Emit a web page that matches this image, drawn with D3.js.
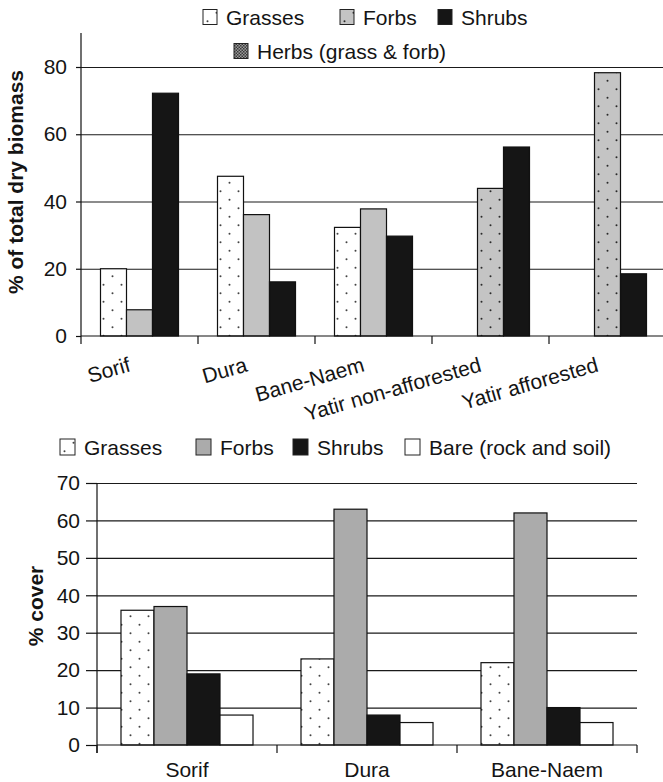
<!DOCTYPE html>
<html>
<head>
<meta charset="utf-8">
<script src="https://cdn.jsdelivr.net/npm/d3@7"></script>
<style>
  body { margin: 0; background: #fff; }
  text { font-family: "Liberation Sans", Arial, sans-serif; fill: #141414; }
</style>
</head>
<body>
<div id="chart"></div>
<script>
// top panel: % of total dry biomass
const sites1 = ["Sorif", "Dura", "Bane-Naem", "Yatir non-afforested", "Yatir afforested"]
const grasses1 = [20, 47.5, 32.3, null, null]
const forbs1 = [7.8, 36.1, 37.8, null, null]
const herbs1 = [null, null, null, 43.9, 78.3]
const shrubs1 = [72.2, 16.1, 29.7, 56.2, 18.5]
const ticks1 = [0, 20, 40, 60, 80]

// bottom panel: % cover
const sites2 = ["Sorif", "Dura", "Bane-Naem"]
const grasses2 = [36, 23, 22]
const forbs2 = [37, 63, 62]
const shrubs2 = [19, 8, 10]
const bare2 = [8, 6, 6]
const ticks2 = [0, 10, 20, 30, 40, 50, 60, 70]

const width = 663
const height = 782

const svg = d3.select('#chart')
    .append('svg')
    .attr('width', width)
    .attr('height', height)

// fills
const defs = svg.append('defs')
function dotPattern(id, bg, dot) {
    const p = defs.append('pattern')
        .attr('id', id)
        .attr('patternUnits', 'userSpaceOnUse')
        .attr('width', 18)
        .attr('height', 17)
    p.append('rect').attr('width', 18).attr('height', 17).attr('fill', bg)
    p.append('circle').attr('cx', 4.5).attr('cy', 4.2).attr('r', 1).attr('fill', dot)
    p.append('circle').attr('cx', 13.5).attr('cy', 12.7).attr('r', 1).attr('fill', dot)
}
dotPattern('grassDots', '#ffffff', '#444')
dotPattern('herbDots', '#c4c4c4', '#2a2a2a')
const chk = defs.append('pattern')
    .attr('id', 'checker')
    .attr('patternUnits', 'userSpaceOnUse')
    .attr('width', 3).attr('height', 3)
chk.append('rect').attr('width', 3).attr('height', 3).attr('fill', '#9a9a9a')
chk.append('rect').attr('width', 1.5).attr('height', 1.5).attr('fill', '#3a3a3a')
chk.append('rect').attr('x', 1.5).attr('y', 1.5).attr('width', 1.5).attr('height', 1.5).attr('fill', '#3a3a3a')

const colors = {
    grasses: 'url(#grassDots)',
    forbs1: '#c2c2c2',
    forbs2: '#ababab',
    herbs: 'url(#herbDots)',
    shrubs: '#151515',
    bare: '#ffffff'
}

// ---------- top chart ----------
const x1 = d3.scaleBand()
    .domain(sites1)
    .range([81, 666])
const slot1 = d3.scaleBand()
    .domain(['grasses', 'forbs', 'shrubs'])
    .range([0, x1.bandwidth()])
    .paddingInner(0)
    .paddingOuter(0.75)
const y1 = d3.scaleLinear()
    .domain([0, 80])
    .range([336, 67])

const topChart = svg.append('g')

topChart.append('g')
    .attr('transform', 'translate(81,0)')
    .call(d3.axisLeft(y1).tickValues(ticks1.slice(1)).tickSize(-(width - 81)).tickFormat(''))
    .call(g => g.select('.domain').remove())
    .call(g => g.selectAll('line').attr('stroke', '#1a1a1a').attr('stroke-width', 1.2))

const bars1 = []
sites1.forEach((s, i) => {
    if (grasses1[i] != null) bars1.push({ site: s, slot: 'grasses', v: grasses1[i], fill: colors.grasses })
    if (forbs1[i] != null) bars1.push({ site: s, slot: 'forbs', v: forbs1[i], fill: colors.forbs1 })
    if (herbs1[i] != null) bars1.push({ site: s, slot: 'forbs', v: herbs1[i], fill: colors.herbs })
    if (shrubs1[i] != null) bars1.push({ site: s, slot: 'shrubs', v: shrubs1[i], fill: colors.shrubs })
})

topChart.selectAll('rect.bar')
    .data(bars1)
    .join('rect')
    .attr('class', 'bar')
    .attr('x', d => x1(d.site) + slot1(d.slot))
    .attr('y', d => y1(d.v))
    .attr('width', slot1.bandwidth())
    .attr('height', d => y1(0) - y1(d.v))
    .attr('fill', d => d.fill)
    .attr('stroke', '#111')
    .attr('stroke-width', 1.2)

// x axis line + category ticks
topChart.append('line')
    .attr('x1', 81).attr('x2', width)
    .attr('y1', y1(0)).attr('y2', y1(0))
    .attr('stroke', '#111').attr('stroke-width', 1.2)
topChart.selectAll('line.ctick')
    .data(sites1.slice(1))
    .join('line')
    .attr('class', 'ctick')
    .attr('x1', d => x1(d)).attr('x2', d => x1(d))
    .attr('y1', y1(0)).attr('y2', y1(0) + 8)
    .attr('stroke', '#111').attr('stroke-width', 1.2)

// y axis
topChart.append('g')
    .attr('transform', 'translate(81,0)')
    .call(d3.axisLeft(y1).tickValues(ticks1).tickSize(5).tickPadding(9))
    .call(g => g.select('.domain').remove())
    .call(g => g.selectAll('line').attr('stroke', '#111').attr('stroke-width', 1.2))
    .call(g => g.selectAll('text').attr('font-size', 21).attr('font-family', '"Liberation Sans", Arial, sans-serif').attr('fill', '#141414'))
topChart.append('line')
    .attr('x1', 81).attr('x2', 81)
    .attr('y1', 33).attr('y2', y1(0) + 8)
    .attr('stroke', '#111').attr('stroke-width', 1.2)

topChart.selectAll('text.cat')
    .data(sites1)
    .join('text')
    .attr('class', 'cat')
    .attr('text-anchor', 'end')
    .attr('font-size', 21)
    .attr('transform', d => `translate(${x1(d) + x1.bandwidth() / 2 - 8},371) rotate(-16)`)
    .text(d => d)

topChart.append('text')
    .attr('transform', 'translate(23,182) rotate(-90)')
    .attr('text-anchor', 'middle')
    .attr('font-size', 21)
    .attr('font-weight', 'bold')
    .text('% of total dry biomass')

// legend top
const legend1 = [
    { label: 'Grasses', fill: colors.grasses, x: 203, y: 17 },
    { label: 'Forbs', fill: 'url(#herbDots)', x: 340, y: 17 },
    { label: 'Shrubs', fill: colors.shrubs, x: 438, y: 17 },
    { label: 'Herbs (grass & forb)', fill: 'url(#checker)', x: 234, y: 51 }
]
const lg1 = topChart.selectAll('g.lg')
    .data(legend1)
    .join('g')
    .attr('class', 'lg')
    .attr('transform', d => `translate(${d.x},${d.y})`)
lg1.append('rect')
    .attr('x', 0).attr('y', -7.5)
    .attr('width', 14).attr('height', 15)
    .attr('fill', d => d.fill)
    .attr('stroke', '#222').attr('stroke-width', 1)
lg1.append('text')
    .attr('x', 23).attr('y', 7.5)
    .attr('font-size', 21)
    .text(d => d.label)

// ---------- bottom chart ----------
const x2 = d3.scaleBand()
    .domain(sites2)
    .range([97, 637])
const slot2 = d3.scaleBand()
    .domain(['grasses', 'forbs', 'shrubs', 'bare'])
    .range([0, x2.bandwidth()])
    .paddingInner(0)
    .paddingOuter(0.727)
const y2 = d3.scaleLinear()
    .domain([0, 70])
    .range([745, 483])

const botChart = svg.append('g')

botChart.append('g')
    .attr('transform', 'translate(97,0)')
    .call(d3.axisLeft(y2).tickValues(ticks2.slice(1)).tickSize(-(637 - 97)).tickFormat(''))
    .call(g => g.select('.domain').remove())
    .call(g => g.selectAll('line').attr('stroke', '#1a1a1a').attr('stroke-width', 1.2))

const bars2 = []
sites2.forEach((s, i) => {
    bars2.push({ site: s, slot: 'grasses', v: grasses2[i], fill: colors.grasses })
    bars2.push({ site: s, slot: 'forbs', v: forbs2[i], fill: colors.forbs2 })
    bars2.push({ site: s, slot: 'shrubs', v: shrubs2[i], fill: colors.shrubs })
    bars2.push({ site: s, slot: 'bare', v: bare2[i], fill: colors.bare })
})

botChart.selectAll('rect.bar')
    .data(bars2)
    .join('rect')
    .attr('class', 'bar')
    .attr('x', d => x2(d.site) + slot2(d.slot))
    .attr('y', d => y2(d.v))
    .attr('width', slot2.bandwidth())
    .attr('height', d => y2(0) - y2(d.v))
    .attr('fill', d => d.fill)
    .attr('stroke', '#111')
    .attr('stroke-width', 1.2)

botChart.append('line')
    .attr('x1', 97).attr('x2', 637)
    .attr('y1', y2(0)).attr('y2', y2(0))
    .attr('stroke', '#111').attr('stroke-width', 1.2)
botChart.selectAll('line.ctick')
    .data(sites2.concat(['end']))
    .join('line')
    .attr('class', 'ctick')
    .attr('x1', d => d === 'end' ? x2.range()[1] : x2(d))
    .attr('x2', d => d === 'end' ? x2.range()[1] : x2(d))
    .attr('y1', y2(0)).attr('y2', y2(0) + 8)
    .attr('stroke', '#111').attr('stroke-width', 1.2)

botChart.append('g')
    .attr('transform', 'translate(97,0)')
    .call(d3.axisLeft(y2).tickValues(ticks2).tickSize(11).tickPadding(6))
    .call(g => g.select('.domain').remove())
    .call(g => g.selectAll('line').attr('stroke', '#111').attr('stroke-width', 1.2))
    .call(g => g.selectAll('text').attr('font-size', 21).attr('font-family', '"Liberation Sans", Arial, sans-serif').attr('fill', '#141414'))
botChart.append('line')
    .attr('x1', 97).attr('x2', 97)
    .attr('y1', y2(70)).attr('y2', y2(0) + 8)
    .attr('stroke', '#111').attr('stroke-width', 1.2)

botChart.selectAll('text.cat')
    .data(sites2)
    .join('text')
    .attr('class', 'cat')
    .attr('text-anchor', 'middle')
    .attr('font-size', 21)
    .attr('x', d => x2(d) + x2.bandwidth() / 2)
    .attr('y', 777)
    .text(d => d)

botChart.append('text')
    .attr('transform', 'translate(43,606) rotate(-90)')
    .attr('text-anchor', 'middle')
    .attr('font-size', 21)
    .attr('font-weight', 'bold')
    .text('% cover')

const legend2 = [
    { label: 'Grasses', fill: colors.grasses, x: 60 },
    { label: 'Forbs', fill: colors.forbs2, x: 196 },
    { label: 'Shrubs', fill: colors.shrubs, x: 293 },
    { label: 'Bare (rock and soil)', fill: colors.bare, x: 405 }
]
const lg2 = botChart.selectAll('g.lg')
    .data(legend2)
    .join('g')
    .attr('class', 'lg')
    .attr('transform', d => `translate(${d.x},447)`)
lg2.append('rect')
    .attr('x', 0).attr('y', -8)
    .attr('width', 15).attr('height', 16)
    .attr('fill', d => d.fill)
    .attr('stroke', '#222').attr('stroke-width', 1)
lg2.append('text')
    .attr('x', 24).attr('y', 7.5)
    .attr('font-size', 21)
    .text(d => d.label)
</script>
</body>
</html>
